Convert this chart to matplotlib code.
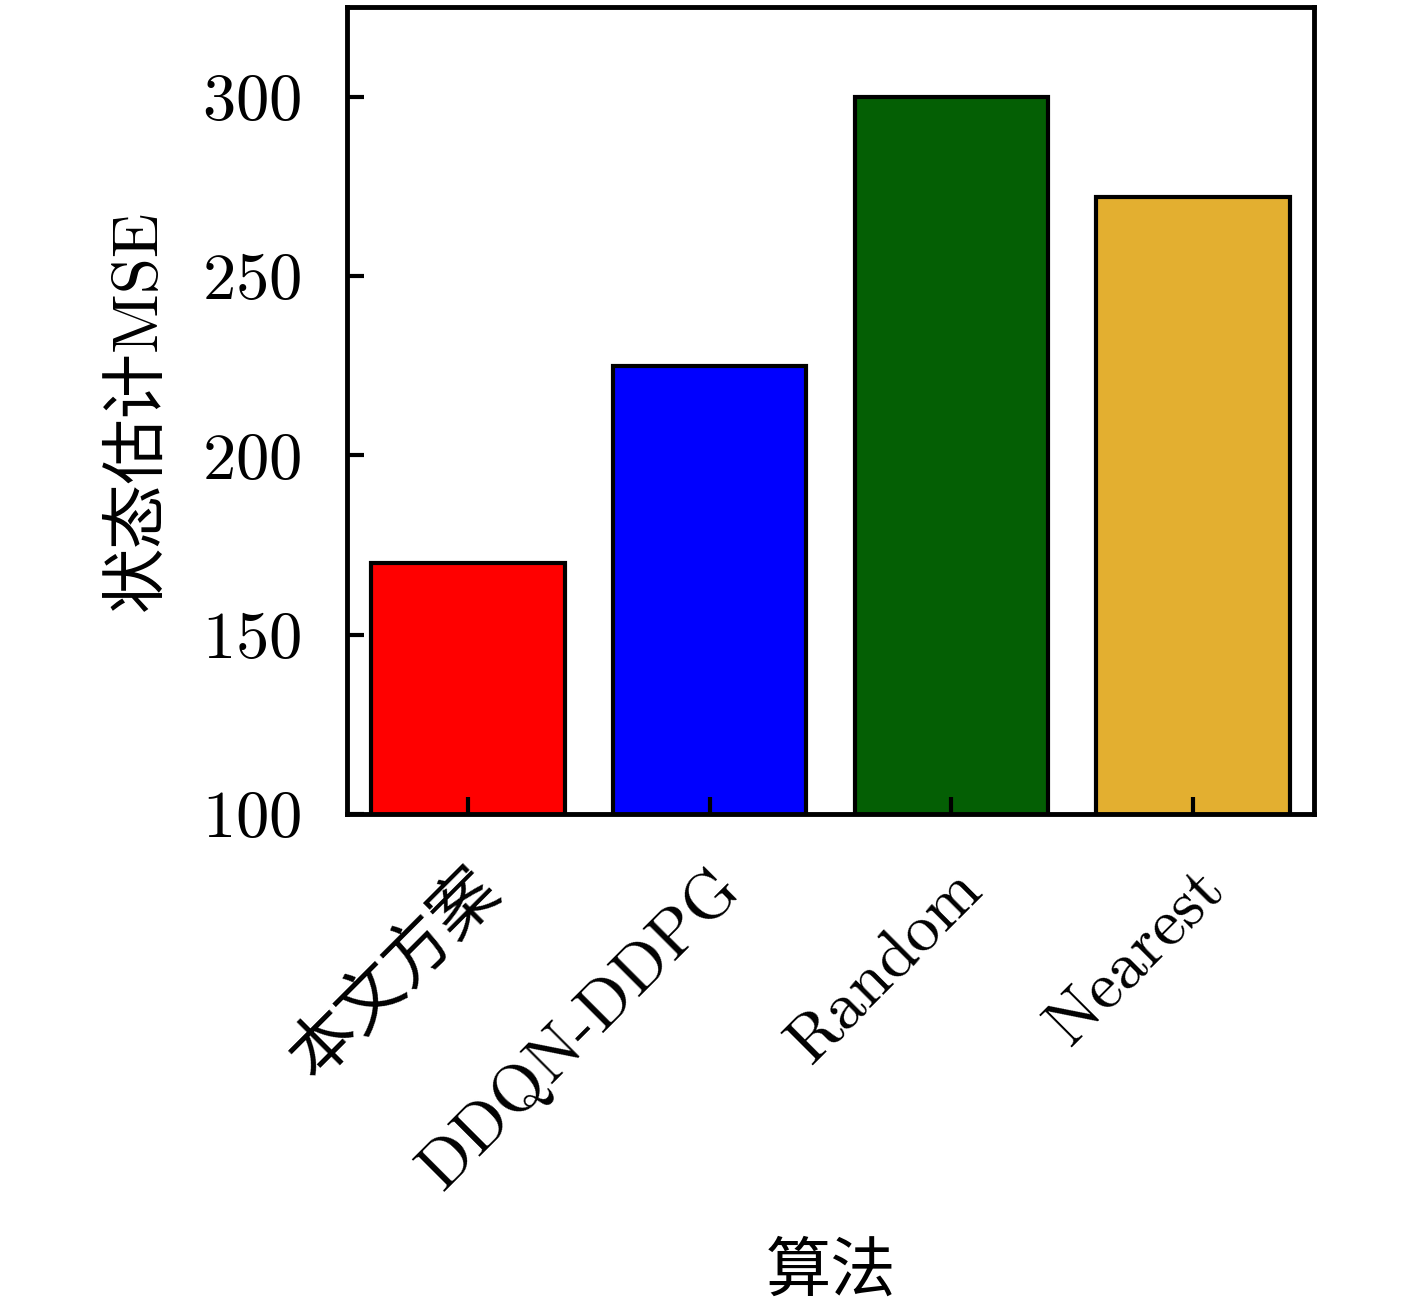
import matplotlib
import matplotlib.pyplot as plt

matplotlib.use("Agg")

plt.rcParams["font.family"] = ["cmr10", "Noto Sans CJK SC"]
plt.rcParams["axes.formatter.use_mathtext"] = True
plt.rcParams["axes.unicode_minus"] = False

# ── Data ─────────────────────────────────────────────────────────────────────
algorithms = ["本文方案", "DDQN-DDPG", "Random", "Nearest"]
mse_values = [170, 225, 300, 272]
bar_colors = ["#ff0000", "#0000ff", "#045f04", "#e3af30"]
y_ticks    = [100, 150, 200, 250, 300]

# ── Plot ─────────────────────────────────────────────────────────────────────
fig = plt.figure(figsize=(14.17, 13.06), dpi=100)
ax  = fig.add_axes([347 / 1417, 1 - 814 / 1306, 967 / 1417, 807 / 1306])

x = range(len(algorithms))
ax.bar(x, mse_values, width=0.8, color=bar_colors, edgecolor="black", linewidth=3)

ax.set_xlim(-0.5, len(algorithms) - 0.5)
ax.set_ylim(100, 325)
ax.set_yticks(y_ticks)
ax.set_xticks(list(x))
ax.set_xticklabels(algorithms, rotation=45, ha="right", va="top", rotation_mode="anchor")

for spine in ax.spines.values():
    spine.set_linewidth(3.5)

ax.tick_params(axis="both", direction="in", length=12, width=3, labelsize=48)
ax.tick_params(axis="y", pad=33)
ax.tick_params(axis="x", pad=32)

ax.set_ylabel("状态估计MSE", fontsize=47, labelpad=24)
ax.set_xlabel("算法", fontsize=47, labelpad=30)

fig.savefig("out.png", dpi=100)
plt.close(fig)
